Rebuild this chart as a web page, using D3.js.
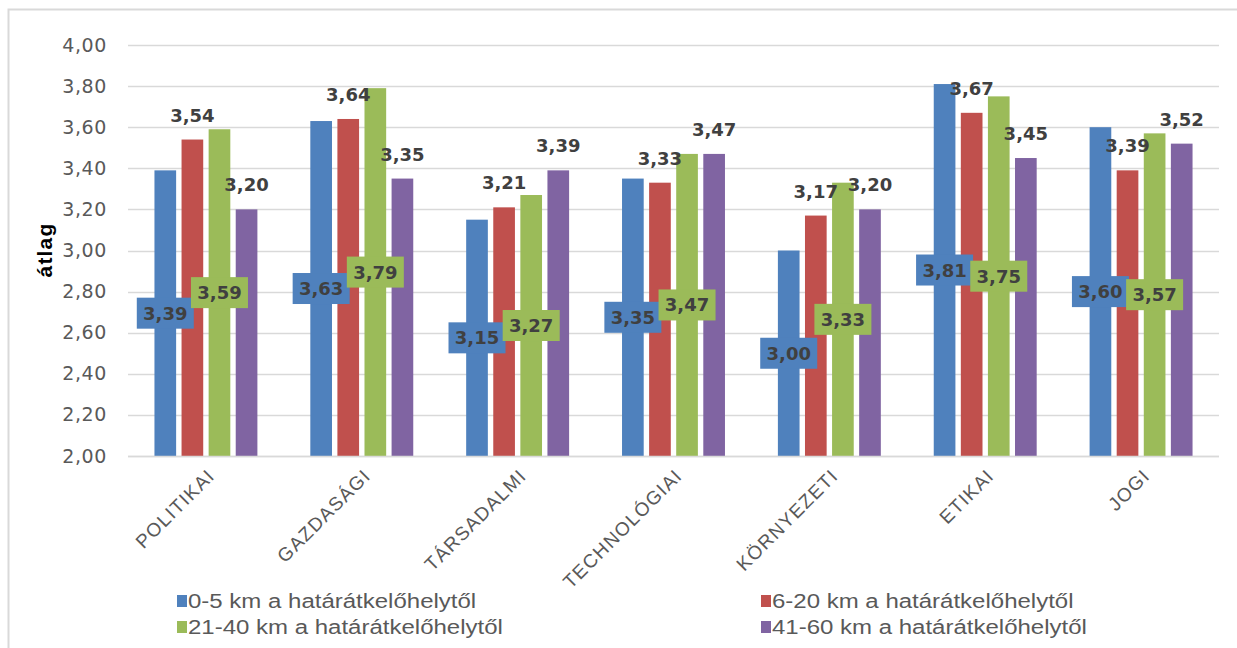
<!DOCTYPE html>
<html>
<head>
<meta charset="utf-8">
<script src="https://cdn.jsdelivr.net/npm/d3@7"></script>
<style>
  html, body { margin: 0; padding: 0; background: #fff; }
  svg { display: block; }
</style>
</head>
<body>
<svg id="chart" width="1237" height="648"></svg>
<script>
const categories = ["POLITIKAI", "GAZDASÁGI", "TÁRSADALMI", "TECHNOLÓGIAI", "KÖRNYEZETI", "ETIKAI", "JOGI"];
const seriesNames = ["0-5 km a határátkelőhelytől", "6-20 km a határátkelőhelytől", "21-40 km a határátkelőhelytől", "41-60 km a határátkelőhelytől"];
const seriesColors = ["#4f81bd", "#c0504d", "#9bbb59", "#8064a2"];
const s0_5 = [3.39, 3.63, 3.15, 3.35, 3.00, 3.81, 3.60];
const s6_20 = [3.54, 3.64, 3.21, 3.33, 3.17, 3.67, 3.39];
const s21_40 = [3.59, 3.79, 3.27, 3.47, 3.33, 3.75, 3.57];
const s41_60 = [3.20, 3.35, 3.39, 3.47, 3.20, 3.45, 3.52];
const yTicks = [2.0, 2.2, 2.4, 2.6, 2.8, 3.0, 3.2, 3.4, 3.6, 3.8, 4.0];
const yTitle = "átlag";

const seriesValues = [s0_5, s6_20, s21_40, s41_60];
// label style per series: "box" = centred in bar with coloured box, "top" = above bar
const labelMode = ["box", "top", "box", "top"];

const svg = d3.select("#chart");
const plotL = 128, plotR = 1219, plotT = 45, plotB = 456;

const fmt = v => d3.format(".2f")(v).replace(".", ",");

// outer frame
svg.append("rect").attr("x", 8.5).attr("y", 9.5).attr("width", 1250).attr("height", 660)
  .attr("fill", "none").attr("stroke", "#d9d9d9").attr("stroke-width", 2);

const y = d3.scaleLinear().domain([2, 4]).range([plotB, plotT]);
const x0 = d3.scaleBand().domain(categories).range([plotL, plotR]).paddingInner(0.27).paddingOuter(0.135);
const x1 = d3.scaleBand().domain(d3.range(4)).range([0, x0.bandwidth()]).padding(0.2);

// gridlines
svg.append("g").selectAll("line").data(yTicks).join("line")
  .attr("x1", plotL).attr("x2", plotR)
  .attr("y1", d => Math.round(y(d)) + 0.5).attr("y2", d => Math.round(y(d)) + 0.5)
  .attr("stroke", "#d9d9d9").attr("stroke-width", 1.5);

// y axis labels
const yAxis = d3.axisLeft(y).tickValues(yTicks).tickFormat(fmt).tickSize(0).tickPadding(21);
const gy = svg.append("g").attr("transform", `translate(${plotL},0)`).call(yAxis);
gy.select(".domain").remove();
gy.selectAll("text").attr("font-family", "DejaVu Sans, sans-serif").attr("font-size", 19)
  .attr("letter-spacing", 0.6).attr("fill", "#595959");

// y title
svg.append("text").attr("transform", `translate(52,250) rotate(-90)`)
  .attr("text-anchor", "middle").attr("font-family", "Liberation Sans, Arial, sans-serif")
  .attr("font-weight", "bold").attr("font-size", 21).attr("letter-spacing", 1.2)
  .attr("fill", "#000").text(yTitle);

// x labels
const xAxis = d3.axisBottom(x0).tickSize(0).tickFormat(d => d);
const gx = svg.append("g").attr("transform", `translate(0,${plotB})`).call(xAxis);
gx.select(".domain").remove();
gx.selectAll(".tick text")
  .attr("font-family", "Liberation Sans, Arial, sans-serif").attr("font-size", 19)
  .attr("letter-spacing", 1.3).attr("fill", "#595959")
  .attr("text-anchor", "end").attr("dy", 0).attr("y", 0)
  .attr("transform", "translate(10,21) rotate(-45)");

// bars
const groups = svg.append("g").selectAll("g").data(categories).join("g")
  .attr("transform", d => `translate(${x0(d)},0)`);

const barData = (c, ci) => seriesValues.map((vals, si) => ({ si, v: vals[ci] }));

groups.selectAll("rect").data((c, ci) => barData(c, ci)).join("rect")
  .attr("x", d => x1(d.si)).attr("width", x1.bandwidth())
  .attr("y", d => y(d.v)).attr("height", d => y(2) - y(d.v))
  .attr("fill", d => seriesColors[d.si]);

// axis baseline
svg.append("line").attr("x1", plotL).attr("x2", plotR).attr("y1", plotB + 0.5).attr("y2", plotB + 0.5)
  .attr("stroke", "#d9d9d9").attr("stroke-width", 1.5);

// value labels: top ones
const labelFont = "DejaVu Sans, Verdana, sans-serif";
groups.selectAll("text.top").data((c, ci) => barData(c, ci).filter(d => labelMode[d.si] === "top")).join("text")
  .attr("class", "top")
  .attr("x", d => x1(d.si) + x1.bandwidth() / 2).attr("y", d => y(d.v) - 18)
  .attr("text-anchor", "middle").attr("font-family", labelFont).attr("font-weight", "bold")
  .attr("font-size", 18).attr("fill", "#404040").text(d => fmt(d.v));

// value labels: boxed ones
const boxes = groups.selectAll("g.box").data((c, ci) => barData(c, ci).filter(d => labelMode[d.si] === "box")).join("g")
  .attr("class", "box")
  .attr("transform", d => `translate(${x1(d.si) + x1.bandwidth() / 2},${(y(d.v) + y(2)) / 2})`);
boxes.append("rect").attr("x", -28.5).attr("y", -15.5).attr("width", 57).attr("height", 31)
  .attr("fill", d => seriesColors[d.si]);
boxes.append("text").attr("text-anchor", "middle").attr("dy", "0.36em")
  .attr("font-family", labelFont).attr("font-weight", "bold").attr("font-size", 18)
  .attr("fill", "#404040").text(d => fmt(d.v));

// legend
const legendPos = [[177, 601], [761, 601], [177, 627], [761, 627]];
const leg = svg.append("g").selectAll("g").data(seriesNames).join("g")
  .attr("transform", (d, i) => `translate(${legendPos[i][0]},${legendPos[i][1]})`);
leg.append("rect").attr("x", 0).attr("y", -6).attr("width", 10).attr("height", 12)
  .attr("fill", (d, i) => seriesColors[i]);
leg.append("text").attr("x", 11).attr("dy", "0.35em")
  .attr("font-family", "Liberation Sans, Arial, sans-serif").attr("font-size", 20)
  .attr("fill", "#595959").text(d => d)
  .each(function () {
    const w = this.getComputedTextLength();
    d3.select(this).attr("textLength", w * 1.2).attr("lengthAdjust", "spacingAndGlyphs");
  });
</script>
</body>
</html>
